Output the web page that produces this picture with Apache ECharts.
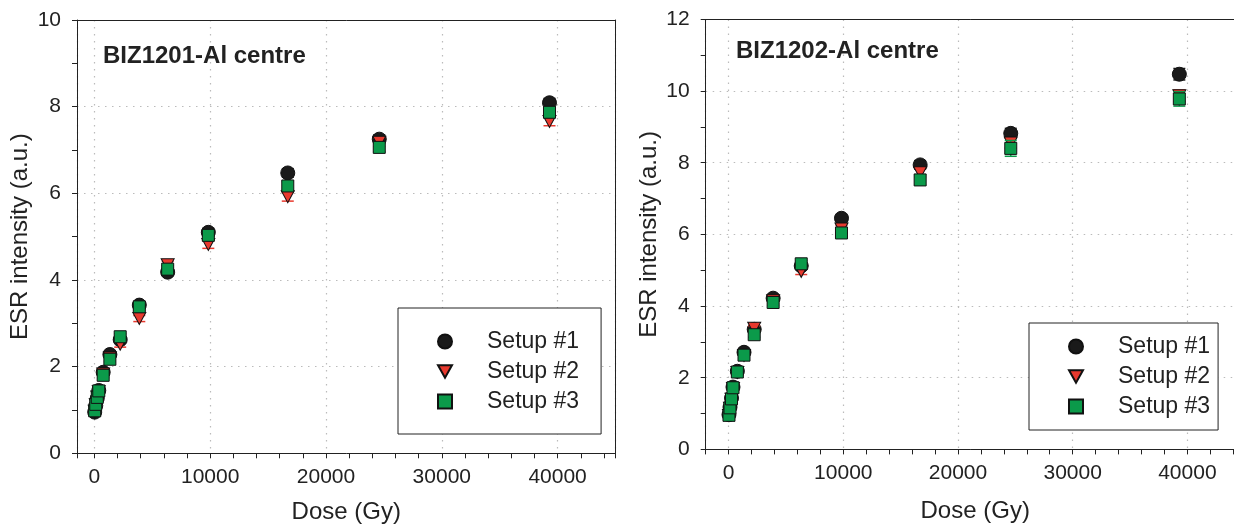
<!DOCTYPE html>
<html><head><meta charset="utf-8">
<script src="https://cdn.jsdelivr.net/npm/echarts@6/dist/echarts.min.js"></script>
<style>html,body{margin:0;padding:0;background:#fff}#c{width:1234px;height:525px}</style>
</head><body><div id="c"></div>
<script>
// ---- data ----
const seriesNames = ['Setup #1', 'Setup #2', 'Setup #3'];
const panelTitles = ['BIZ1201-Al centre', 'BIZ1202-Al centre'];
const xTickLabels = [0, 10000, 20000, 30000, 40000];
const dose = [30, 120, 250, 380, 760, 1340, 2230, 3880, 6330, 9840, 16700, 24600, 39300];

// left panel (BIZ1201)
const left1 = [0.95, 1.10, 1.27, 1.45, 1.87, 2.28, 2.62, 3.42, 4.18, 5.10, 6.47, 7.25, 8.09];
const left2 = [0.97, 1.12, 1.30, 1.42, 1.83, 2.20, 2.52, 3.11, 4.35, 4.82, 5.92, 7.18, 7.66];
const left3 = [0.98, 1.13, 1.29, 1.44, 1.80, 2.17, 2.69, 3.38, 4.25, 5.03, 6.17, 7.06, 7.87];
const leftErr1 = [0.04, 0.04, 0.05, 0.05, 0.06, 0.06, 0.07, 0.07, 0.08, 0.09, 0.10, 0.10, 0.10];
const leftErr2 = [0.04, 0.04, 0.05, 0.05, 0.06, 0.06, 0.07, 0.07, 0.08, 0.09, 0.10, 0.10, 0.10];
const leftErr3 = [0.04, 0.04, 0.05, 0.05, 0.06, 0.06, 0.07, 0.07, 0.08, 0.09, 0.10, 0.10, 0.10];

// right panel (BIZ1202)
const right1 = [0.97, 1.18, 1.43, 1.74, 2.18, 2.71, 3.35, 4.22, 5.12, 6.45, 7.94, 8.82, 10.47];
const right2 = [0.95, 1.15, 1.40, 1.70, 2.15, 2.62, 3.38, 4.15, 4.97, 6.15, 7.72, 8.55, 9.87];
const right3 = [0.95, 1.16, 1.41, 1.72, 2.16, 2.63, 3.20, 4.10, 5.18, 6.04, 7.52, 8.40, 9.78];
const rightErr1 = [0.04, 0.04, 0.05, 0.05, 0.06, 0.07, 0.07, 0.08, 0.09, 0.10, 0.12, 0.14, 0.16];
const rightErr2 = [0.04, 0.04, 0.05, 0.05, 0.06, 0.07, 0.07, 0.08, 0.09, 0.10, 0.12, 0.14, 0.16];
const rightErr3 = [0.04, 0.04, 0.05, 0.05, 0.06, 0.07, 0.07, 0.08, 0.09, 0.10, 0.14, 0.22, 0.20];

// ---- styles ----
const FONT = 'Liberation Sans, Arial, sans-serif';
const colors = ['#1a1a1a', '#e8392e', '#0b9a4a'];
const triPath = 'path://M0,0L10,0L5,9Z';
const symbols = ['circle', triPath, 'rect'];
const symSizes = [14, [13, 12], 12];

function pairs(xs, ys) { return xs.map((x, i) => [x, ys[i]]); }
function triples(xs, ys, es) { return xs.map((x, i) => [x, ys[i], es[i]]); }

function errRender(params, api) {
  const x = api.value(0), y = api.value(1), e = api.value(2);
  const hi = api.coord([x, y + e]);
  const lo = api.coord([x, y - e]);
  const w = 6;
  const style = { stroke: api.visual('color'), lineWidth: 1.5 };
  return { type: 'group', children: [
    { type: 'line', shape: { x1: hi[0], y1: hi[1], x2: lo[0], y2: lo[1] }, style },
    { type: 'line', shape: { x1: hi[0] - w, y1: hi[1], x2: hi[0] + w, y2: hi[1] }, style },
    { type: 'line', shape: { x1: lo[0] - w, y1: lo[1], x2: lo[0] + w, y2: lo[1] }, style }
  ]};
}

const grid = [
  { left: 77, top: 20, width: 538.5, height: 433.3, outerBoundsMode: 'none', containLabel: false },
  { left: 705.7, top: 19.4, width: 539, height: 430, outerBoundsMode: 'none', containLabel: false }
];

const dotted = { color: '#bbb', width: 1.2, type: [1.5, 5.5] };

function xAxisDef(gi, min) {
  return {
    gridIndex: gi, type: 'value', min: min, max: 45000, splitNumber: 5, position: 'bottom',
    name: 'Dose (Gy)', nameLocation: 'middle', nameGap: gi === 0 ? 47 : 50,
    nameTextStyle: { fontSize: 24, color: '#222', fontFamily: FONT },
    axisLine: { show: true, onZero: false, lineStyle: { color: '#222', width: 1 } },
    axisTick: { show: true, inside: false, length: 5, lineStyle: { color: '#222' } },
    minorTick: { show: true, splitNumber: 5, length: 5, lineStyle: { color: '#222' } },
    axisLabel: {
      fontSize: 21, color: '#222', fontFamily: FONT, margin: 13,
      showMinLabel: false, showMaxLabel: false,
      formatter: v => (xTickLabels.indexOf(v) >= 0 ? String(v) : '')
    },
    splitLine: { show: true, lineStyle: dotted },
    minorSplitLine: { show: false }
  };
}
function yAxisDef(gi, max) {
  return {
    gridIndex: gi, type: 'value', min: 0, max: max, interval: 2, position: 'left',
    name: 'ESR intensity (a.u.)', nameLocation: 'middle', nameGap: gi === 0 ? 45 : 44,
    nameTextStyle: { fontSize: 24, color: '#222', fontFamily: FONT },
    axisLine: { show: true, onZero: false, lineStyle: { color: '#222', width: 1 } },
    axisTick: { show: true, inside: false, length: 5, lineStyle: { color: '#222' } },
    minorTick: { show: true, splitNumber: 2, length: 5, lineStyle: { color: '#222' } },
    axisLabel: { fontSize: 21, color: '#222', fontFamily: FONT, margin: 16 },
    splitLine: { show: true, lineStyle: dotted }
  };
}
function frameX(gi, min) {
  return { gridIndex: gi, type: 'value', min: min, max: 45000, position: 'top',
    axisLine: { show: true, onZero: false, lineStyle: { color: '#222', width: 1 } },
    axisTick: { show: false }, axisLabel: { show: false }, splitLine: { show: false } };
}
function frameY(gi, max) {
  return { gridIndex: gi, type: 'value', min: 0, max: max, position: 'right',
    axisLine: { show: true, onZero: false, lineStyle: { color: '#222', width: 1 } },
    axisTick: { show: false }, axisLabel: { show: false }, splitLine: { show: false } };
}

const panels = [
  { ys: [left1, left2, left3], es: [leftErr1, leftErr2, leftErr3] },
  { ys: [right1, right2, right3], es: [rightErr1, rightErr2, rightErr3] }
];

const series = [];
panels.forEach((p, gi) => {
  for (let s = 0; s < 3; s++) {
    series.push({
      type: 'custom', name: 'err' + gi + s, xAxisIndex: gi, yAxisIndex: gi,
      renderItem: errRender, data: triples(dose, p.ys[s], p.es[s]),
      itemStyle: { color: colors[s] }, z: 2 + s * 2, silent: true
    });
    series.push({
      type: 'scatter', name: seriesNames[s], xAxisIndex: gi, yAxisIndex: gi,
      data: pairs(dose, p.ys[s]), symbol: symbols[s], symbolSize: symSizes[s],
      itemStyle: { color: colors[s], borderColor: '#111', borderWidth: 1, opacity: 1 },
      z: 3 + s * 2, clip: false
    });
  }
});

function legendDef(left, top, pad) {
  return {
    left: left, top: top, orient: 'vertical',
    data: seriesNames.map((n, i) => ({ name: n, icon: symbols[i] })),
    itemWidth: 14, itemHeight: 14, itemGap: 7,
    padding: pad,
    borderColor: '#222', borderWidth: 1, backgroundColor: '#fff',
    textStyle: { fontSize: 23, color: '#222', fontFamily: FONT, lineHeight: 23, padding: [0, 0, 0, 30] },
    selectedMode: false
  };
}

const option = {
  animation: false,
  backgroundColor: '#fff',
  title: [
    { text: panelTitles[0], left: 103, top: 44, padding: 0,
      textStyle: { fontSize: 24, fontWeight: 'bold', color: '#222', fontFamily: FONT } },
    { text: panelTitles[1], left: 736, top: 39, padding: 0,
      textStyle: { fontSize: 24, fontWeight: 'bold', color: '#222', fontFamily: FONT } }
  ],
  legend: [legendDef(398, 308, [22, 22, 21, 39]), legendDef(1029, 323, [12, 8, 12, 39])],
  grid: grid,
  xAxis: [xAxisDef(0, -1500), xAxisDef(1, -2000), frameX(0, -1500), frameX(1, -2000)],
  yAxis: [yAxisDef(0, 10), yAxisDef(1, 12), frameY(0, 10), frameY(1, 12)],
  series: series
};

const chart = echarts.init(document.getElementById('c'), null, { renderer: 'canvas' });
chart.setOption(option);
</script>
</body></html>
